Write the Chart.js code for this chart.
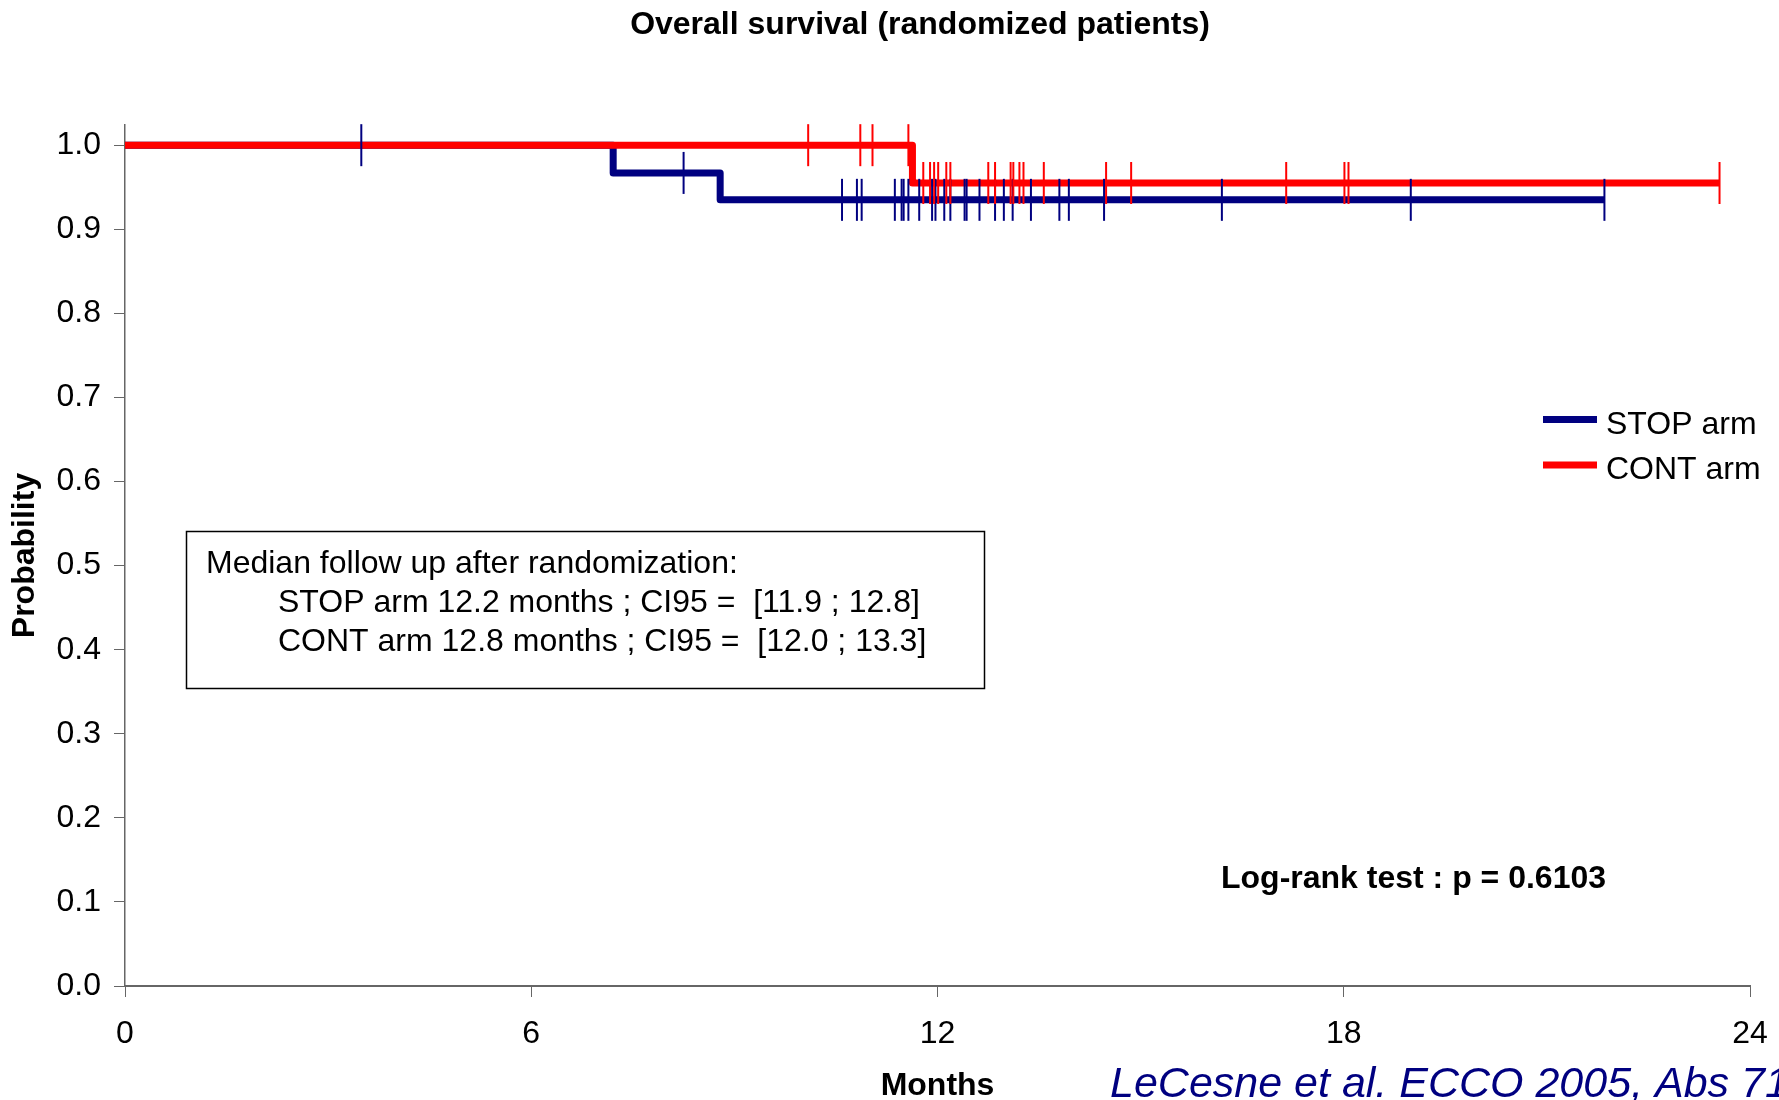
<!DOCTYPE html>
<html>
<head>
<meta charset="utf-8">
<script src="https://cdn.jsdelivr.net/npm/chart.js@4.4.0/dist/chart.umd.min.js"></script>
<style>
  html, body { margin: 0; padding: 0; background: #ffffff; }
  canvas { display: block; }
</style>
</head>
<body>
<canvas id="c" width="1779" height="1100"></canvas>
<script>
// ---------- text ----------
const chartTitle = 'Overall survival (randomized patients)';
const xAxisTitle = 'Months';
const yAxisTitle = 'Probability';
const seriesNames = ['STOP arm', 'CONT arm'];
const noteLines = [
  'Median follow up after randomization:',
  'STOP arm 12.2 months ; CI95 =  [11.9 ; 12.8]',
  'CONT arm 12.8 months ; CI95 =  [12.0 ; 13.3]'
];
const logRankText = 'Log-rank test : p = 0.6103';
const citationText = 'LeCesne et al. ECCO 2005, Abs 71';

// ---------- data (Kaplan-Meier steps, months / survival probability) ----------
const stopTimes = [0, 7.21, 8.79, 21.85];
const stopSurv  = [1.0, 0.967, 0.935, 0.935];
const contTimes = [0, 11.63, 23.55];
const contSurv  = [1.0, 0.955, 0.955];

// censored observations (months)
const stopCensored = [3.49, 8.25, 10.59, 10.81, 10.88, 11.37, 11.47, 11.50, 11.57, 11.73,
  11.92, 11.97, 12.10, 12.19, 12.40, 12.43, 12.62, 12.85, 12.98, 13.11, 13.38, 13.80,
  13.94, 14.46, 16.20, 18.99, 21.85];
const contCensored = [10.09, 10.86, 11.04, 11.57, 11.79, 11.89, 11.95, 12.01, 12.13,
  12.19, 12.75, 12.85, 13.08, 13.12, 13.21, 13.27, 13.57, 14.49, 14.86, 17.15, 18.01,
  18.07, 23.55];

// ---------- ticks ----------
const xTickValues = [0, 6, 12, 18, 24];
const yTickValues = [0.0, 0.1, 0.2, 0.3, 0.4, 0.5, 0.6, 0.7, 0.8, 0.9, 1.0];

// ---------- helpers ----------
function curvePoints(times, surv) {
  return times.map((t, i) => ({ x: t, y: surv[i] }));
}
function survivalAt(times, surv, t) {
  let s = surv[0];
  for (let i = 0; i < times.length; i++) { if (times[i] <= t) s = surv[i]; }
  return s;
}
function censorPoints(cens, times, surv) {
  return cens.map(t => ({ x: t, y: survivalAt(times, surv, t) }));
}

const FONT = '"Liberation Sans", Arial, Helvetica, sans-serif';
Chart.defaults.font.family = FONT;
Chart.defaults.font.size = 32;
Chart.defaults.color = '#000000';

const BLUE = '#000080';
const RED = '#ff0000';
const AXIS = '#666666';

const overlayPlugin = {
  id: 'overlay',
  afterDraw(chart) {
    const ctx = chart.ctx;
    ctx.save();
    ctx.textBaseline = 'alphabetic';
    // title
    ctx.fillStyle = '#000';
    ctx.font = 'bold 32px ' + FONT;
    ctx.textAlign = 'center';
    ctx.fillText(chartTitle, 920, 34);

    // legend
    ctx.textAlign = 'left';
    ctx.font = '32px ' + FONT;
    const legendColors = [BLUE, RED];
    const legendLineY = [419.5, 465];
    const legendTextY = [433.5, 479];
    for (let i = 0; i < seriesNames.length; i++) {
      ctx.strokeStyle = legendColors[i];
      ctx.lineWidth = 7;
      ctx.lineCap = 'butt';
      ctx.beginPath();
      ctx.moveTo(1543, legendLineY[i]);
      ctx.lineTo(1597, legendLineY[i]);
      ctx.stroke();
      ctx.fillStyle = '#000';
      ctx.fillText(seriesNames[i], 1606, legendTextY[i]);
    }

    // note box
    ctx.strokeStyle = '#000';
    ctx.lineWidth = 1.5;
    ctx.strokeRect(186.5, 531.5, 798, 157);
    ctx.fillStyle = '#000';
    ctx.font = '32px ' + FONT;
    ctx.fillText(noteLines[0], 206, 573);
    ctx.fillText(noteLines[1], 278, 611.5);
    ctx.fillText(noteLines[2], 278, 650.5);

    // log-rank
    ctx.font = 'bold 32px ' + FONT;
    ctx.fillText(logRankText, 1221, 887.5);

    // citation
    ctx.font = 'italic 43px ' + FONT;
    ctx.fillStyle = BLUE;
    ctx.fillText(citationText, 1110, 1097);
    ctx.restore();
  }
};

new Chart(document.getElementById('c'), {
  type: 'scatter',
  data: {
    datasets: [
      {
        label: seriesNames[1] + ' censored',
        data: censorPoints(contCensored, contTimes, contSurv),
        showLine: false,
        pointStyle: 'line',
        rotation: 90,
        radius: 21,
        borderColor: RED,
        backgroundColor: RED,
        borderWidth: 2,
        clip: false,
        order: 0
      },
      {
        label: seriesNames[0] + ' censored',
        data: censorPoints(stopCensored, stopTimes, stopSurv),
        showLine: false,
        pointStyle: 'line',
        rotation: 90,
        radius: 21,
        borderColor: BLUE,
        backgroundColor: BLUE,
        borderWidth: 2,
        clip: false,
        order: 1
      },
      {
        label: seriesNames[1],
        data: curvePoints(contTimes, contSurv),
        showLine: true,
        stepped: 'before',
        borderColor: RED,
        backgroundColor: RED,
        borderWidth: 7,
        borderJoinStyle: 'round',
        pointRadius: 0,
        fill: false,
        clip: false,
        order: 2
      },
      {
        label: seriesNames[0],
        data: curvePoints(stopTimes, stopSurv),
        showLine: true,
        stepped: 'before',
        borderColor: BLUE,
        backgroundColor: BLUE,
        borderWidth: 7,
        borderJoinStyle: 'round',
        pointRadius: 0,
        fill: false,
        clip: false,
        order: 3
      }
    ]
  },
  options: {
    responsive: false,
    devicePixelRatio: 1,
    animation: false,
    events: [],
    layout: { padding: { top: 125, right: 29, bottom: 0, left: 0 } },
    plugins: {
      legend: { display: false },
      title: { display: false },
      tooltip: { enabled: false }
    },
    scales: {
      x: {
        type: 'linear',
        position: 'bottom',
        min: 0,
        max: 24,
        afterBuildTicks: s => { s.ticks = xTickValues.map(v => ({ value: v })); },
        afterFit: s => { s.height = 114; s.paddingLeft = 0; s.paddingRight = 0; },
        border: { display: true, color: AXIS, width: 2 },
        grid: { display: true, drawOnChartArea: false, drawTicks: true, tickLength: 11, color: AXIS, lineWidth: 1 },
        ticks: { padding: 18, maxRotation: 0, autoSkip: false, color: '#000', font: { size: 32 },
                 callback: v => String(v) },
        title: { display: true, text: xAxisTitle, color: '#000',
                 font: { size: 32, weight: 'bold', lineHeight: 0.85 }, padding: { top: 0, bottom: 0 } }
      },
      y: {
        type: 'linear',
        position: 'left',
        min: 0,
        max: 1.024,
        afterBuildTicks: s => { s.ticks = yTickValues.map(v => ({ value: v })); },
        afterFit: s => { s.width = 125; s.paddingTop = 0; s.paddingBottom = 0; },
        border: { display: true, color: AXIS, width: 1.5 },
        grid: { display: true, drawOnChartArea: false, drawTicks: true, tickLength: 11, color: AXIS, lineWidth: 1 },
        ticks: { padding: 13, color: '#000', font: { size: 32 },
                 callback: v => Number(v).toFixed(1) },
        title: { display: true, text: yAxisTitle, color: '#000',
                 font: { size: 32, weight: 'bold' }, padding: { top: 6, bottom: 0 } }
      }
    }
  },
  plugins: [overlayPlugin]
});
</script>
</body>
</html>
